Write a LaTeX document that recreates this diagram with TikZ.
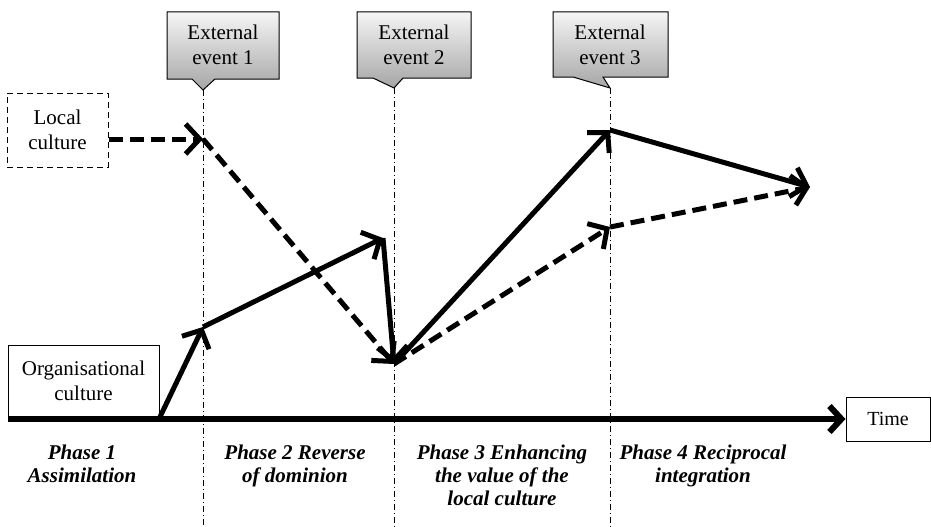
\documentclass[tikz,border=0pt]{standalone}
\usepackage{fontspec}
\setmainfont{Liberation Serif}
\usetikzlibrary{arrows.meta}
\begin{document}
\begin{tikzpicture}[x=1pt,y=-1pt,
  lbl/.style={font=\fontsize{21}{25}\selectfont, align=center, inner sep=0pt},
  phase/.style={font=\fontsize{21}{23}\selectfont\bfseries\itshape, align=center, inner sep=0pt, anchor=north},
  boxed/.style={draw, line width=1pt, align=center, font=\fontsize{21}{25}\selectfont, inner sep=0pt},
  callout/.style={draw, line width=1pt, top color=black!4, bottom color=black!35},
  guide/.style={line width=0.8pt, dash pattern=on 6pt off 3pt on 1pt off 3pt},
  flow/.style={line width=5pt, -{Straight Barb[length=14pt,width=30pt]}},
  flowd/.style={flow, dash pattern=on 14pt off 7pt},
  axis/.style={line width=6pt, -{Straight Barb[length=12pt,width=26pt]}}
]
\useasboundingbox (0,0) rectangle (931,527);

% callouts
\path[callout] (167,12) -- (279,12) -- (279,79) -- (215,79) -- (203,90) -- (192,79) -- (167,79) -- cycle;
\path[callout] (357,12) -- (471,12) -- (471,78) -- (403,78) -- (394,88) -- (373,78) -- (357,78) -- cycle;
\path[callout] (553,12) -- (668,12) -- (668,77) -- (603,77) -- (610,88) -- (573,77) -- (553,77) -- cycle;
\node[lbl] (ev1) at (223,45) {External\\event 1};
\node[lbl] (ev2) at (414,45) {External\\event 2};
\node[lbl] (ev3) at (610,45) {External\\event 3};

% guide lines
\coordinate (g1t) at (203,90);  \coordinate (g1b) at (203,527);
\coordinate (g2t) at (394,88);  \coordinate (g2b) at (394,527);
\coordinate (g3t) at (610,88);  \coordinate (g3b) at (610,527);
\draw[guide] (g1t) -- (g1b);
\draw[guide] (g2t) -- (g2b);
\draw[guide] (g3t) -- (g3b);

% boxes
\node[boxed, dash pattern=on 6pt off 4pt, minimum width=101pt, minimum height=74pt] (local) at (57.5,130) {Local\\culture};
\node[boxed, minimum width=151pt, minimum height=72pt] (org) at (83.5,381) {Organisational\\culture};
\node[boxed, minimum width=84pt, minimum height=44pt, font=\fontsize{20}{24}\selectfont] (time) at (888,419) {Time};

% axis
\coordinate (ax0) at (8,419);
\draw[axis] (ax0) -- (time.west);

% points
\coordinate (a1) at (203,139);
\coordinate (p0) at (159,419);
\coordinate (p1) at (203,327);
\coordinate (p2) at (383,238);
\coordinate (m) at (394,364);
\coordinate (s3) at (610,130);
\coordinate (d3) at (610,227);
\coordinate (e) at (810,187);

% solid path
\draw[flow] (p0) -- (p1);
\draw[flow] (p1) -- (p2);
\draw[flow] (p2) -- (m);
\draw[flow] (m) -- (s3);
\draw[flow] (s3) -- (e);

% dashed path
\draw[flowd] (local.east |- a1) -- (a1);
\draw[flowd] (a1) -- (m);
\draw[flowd] (m) -- (d3);
\draw[flowd] (d3) -- (e);

% phases
\node[phase] (ph1) at (82,445) {Phase 1\\Assimilation};
\node[phase] (ph2) at (295,445) {Phase 2 Reverse\\of dominion};
\node[phase] (ph3) at (502,445) {Phase 3 Enhancing\\the value of the\\local culture};
\node[phase] (ph4) at (703,445) {Phase 4 Reciprocal\\integration};
\end{tikzpicture}
\end{document}
